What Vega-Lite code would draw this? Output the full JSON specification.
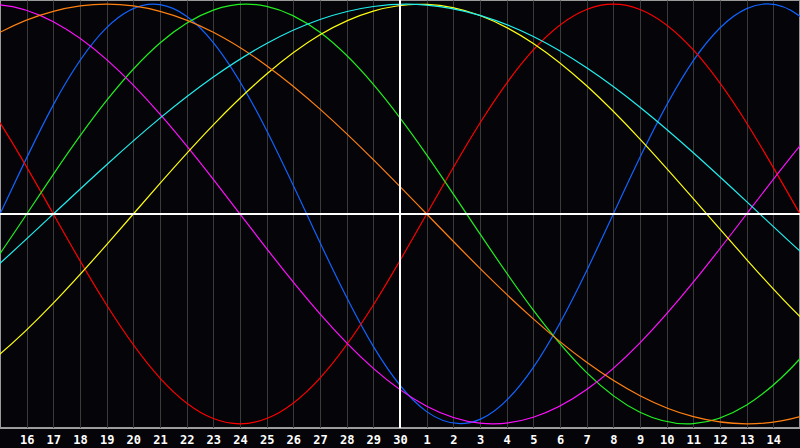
{
  "$schema": "https://vega.github.io/schema/vega-lite/v6.json",
  "width": 800,
  "height": 428,
  "autosize": {"type": "none"},
  "padding": {"left": 0, "top": 0, "right": 0, "bottom": 20},
  "background": "#050408",
  "config": {
    "view": {"stroke": "#9a9a9a", "strokeWidth": 2, "fill": "#050408"},
    "axis": {"labelOverlap": false, "labelFlush": false, "labelBound": false, "labelSeparation": 0}
  },
  "data": {
    "values": [
      {"s": "Physical", "t": -2, "v": -0.520}, {"s": "Physical", "t": 0, "v": 0}, {"s": "Physical", "t": 2, "v": 0.520}, {"s": "Physical", "t": 4, "v": 0.888}, {"s": "Physical", "t": 6, "v": 0.998}, {"s": "Physical", "t": 8, "v": 0.817}, {"s": "Physical", "t": 10, "v": 0.398}, {"s": "Physical", "t": 12, "v": -0.136}, {"s": "Physical", "t": 14, "v": -0.631}, {"s": "Physical", "t": 16, "v": -0.942}, {"s": "Physical", "t": 18, "v": -0.979}, {"s": "Physical", "t": 20, "v": -0.731}, {"s": "Physical", "t": 22, "v": -0.270}, {"s": "Physical", "t": 24, "v": 0.270}, {"s": "Physical", "t": 26, "v": 0.731}, {"s": "Physical", "t": 28, "v": 0.979}, {"s": "Physical", "t": 30, "v": 0.942}, {"s": "Physical", "t": 32, "v": 0.631},
      {"s": "Emotional", "t": -2, "v": 0.782}, {"s": "Emotional", "t": 0, "v": 0.434}, {"s": "Emotional", "t": 2, "v": 0}, {"s": "Emotional", "t": 4, "v": -0.434}, {"s": "Emotional", "t": 6, "v": -0.782}, {"s": "Emotional", "t": 8, "v": -0.975}, {"s": "Emotional", "t": 10, "v": -0.975}, {"s": "Emotional", "t": 12, "v": -0.782}, {"s": "Emotional", "t": 14, "v": -0.434}, {"s": "Emotional", "t": 16, "v": 0}, {"s": "Emotional", "t": 18, "v": 0.434}, {"s": "Emotional", "t": 20, "v": 0.782}, {"s": "Emotional", "t": 22, "v": 0.975}, {"s": "Emotional", "t": 24, "v": 0.975}, {"s": "Emotional", "t": 26, "v": 0.782}, {"s": "Emotional", "t": 28, "v": 0.434}, {"s": "Emotional", "t": 30, "v": 0}, {"s": "Emotional", "t": 32, "v": -0.434},
      {"s": "Intellectual", "t": -2, "v": -0.541}, {"s": "Intellectual", "t": 0, "v": -0.189}, {"s": "Intellectual", "t": 2, "v": 0.189}, {"s": "Intellectual", "t": 4, "v": 0.541}, {"s": "Intellectual", "t": 6, "v": 0.815}, {"s": "Intellectual", "t": 8, "v": 0.972}, {"s": "Intellectual", "t": 10, "v": 0.990}, {"s": "Intellectual", "t": 12, "v": 0.866}, {"s": "Intellectual", "t": 14, "v": 0.618}, {"s": "Intellectual", "t": 16, "v": 0.282}, {"s": "Intellectual", "t": 18, "v": -0.095}, {"s": "Intellectual", "t": 20, "v": -0.458}, {"s": "Intellectual", "t": 22, "v": -0.756}, {"s": "Intellectual", "t": 24, "v": -0.945}, {"s": "Intellectual", "t": 26, "v": -0.999}, {"s": "Intellectual", "t": 28, "v": -0.910}, {"s": "Intellectual", "t": 30, "v": -0.690}, {"s": "Intellectual", "t": 32, "v": -0.372},
      {"s": "Intuitive", "t": -2, "v": 0.969}, {"s": "Intuitive", "t": 0, "v": 0.997}, {"s": "Intuitive", "t": 2, "v": 0.916}, {"s": "Intuitive", "t": 4, "v": 0.736}, {"s": "Intuitive", "t": 6, "v": 0.476}, {"s": "Intuitive", "t": 8, "v": 0.165}, {"s": "Intuitive", "t": 10, "v": -0.165}, {"s": "Intuitive", "t": 12, "v": -0.476}, {"s": "Intuitive", "t": 14, "v": -0.736}, {"s": "Intuitive", "t": 16, "v": -0.916}, {"s": "Intuitive", "t": 18, "v": -0.997}, {"s": "Intuitive", "t": 20, "v": -0.969}, {"s": "Intuitive", "t": 22, "v": -0.837}, {"s": "Intuitive", "t": 24, "v": -0.614}, {"s": "Intuitive", "t": 26, "v": -0.325}, {"s": "Intuitive", "t": 28, "v": 0}, {"s": "Intuitive", "t": 30, "v": 0.325}, {"s": "Intuitive", "t": 32, "v": 0.614},
      {"s": "Aesthetic", "t": -2, "v": -0.854}, {"s": "Aesthetic", "t": 0, "v": -0.667}, {"s": "Aesthetic", "t": 2, "v": -0.425}, {"s": "Aesthetic", "t": 4, "v": -0.146}, {"s": "Aesthetic", "t": 6, "v": 0.146}, {"s": "Aesthetic", "t": 8, "v": 0.425}, {"s": "Aesthetic", "t": 10, "v": 0.667}, {"s": "Aesthetic", "t": 12, "v": 0.854}, {"s": "Aesthetic", "t": 14, "v": 0.967}, {"s": "Aesthetic", "t": 16, "v": 0.999}, {"s": "Aesthetic", "t": 18, "v": 0.946}, {"s": "Aesthetic", "t": 20, "v": 0.813}, {"s": "Aesthetic", "t": 22, "v": 0.611}, {"s": "Aesthetic", "t": 24, "v": 0.357}, {"s": "Aesthetic", "t": 26, "v": 0.073}, {"s": "Aesthetic", "t": 28, "v": -0.217}, {"s": "Aesthetic", "t": 30, "v": -0.489}, {"s": "Aesthetic", "t": 32, "v": -0.720},
      {"s": "Awareness", "t": -2, "v": 0.707}, {"s": "Awareness", "t": 0, "v": 0.866}, {"s": "Awareness", "t": 2, "v": 0.966}, {"s": "Awareness", "t": 4, "v": 1}, {"s": "Awareness", "t": 6, "v": 0.966}, {"s": "Awareness", "t": 8, "v": 0.866}, {"s": "Awareness", "t": 10, "v": 0.707}, {"s": "Awareness", "t": 12, "v": 0.5}, {"s": "Awareness", "t": 14, "v": 0.259}, {"s": "Awareness", "t": 16, "v": 0}, {"s": "Awareness", "t": 18, "v": -0.259}, {"s": "Awareness", "t": 20, "v": -0.5}, {"s": "Awareness", "t": 22, "v": -0.707}, {"s": "Awareness", "t": 24, "v": -0.866}, {"s": "Awareness", "t": 26, "v": -0.966}, {"s": "Awareness", "t": 28, "v": -1}, {"s": "Awareness", "t": 30, "v": -0.966}, {"s": "Awareness", "t": 32, "v": -0.866},
      {"s": "Spiritual", "t": -2, "v": -0.457}, {"s": "Spiritual", "t": 0, "v": -0.235}, {"s": "Spiritual", "t": 2, "v": 0}, {"s": "Spiritual", "t": 4, "v": 0.235}, {"s": "Spiritual", "t": 6, "v": 0.457}, {"s": "Spiritual", "t": 8, "v": 0.653}, {"s": "Spiritual", "t": 10, "v": 0.813}, {"s": "Spiritual", "t": 12, "v": 0.927}, {"s": "Spiritual", "t": 14, "v": 0.989}, {"s": "Spiritual", "t": 16, "v": 0.996}, {"s": "Spiritual", "t": 18, "v": 0.947}, {"s": "Spiritual", "t": 20, "v": 0.846}, {"s": "Spiritual", "t": 22, "v": 0.697}, {"s": "Spiritual", "t": 24, "v": 0.509}, {"s": "Spiritual", "t": 26, "v": 0.292}, {"s": "Spiritual", "t": 28, "v": 0.059}, {"s": "Spiritual", "t": 30, "v": -0.177}, {"s": "Spiritual", "t": 32, "v": -0.403}
    ]
  },
  "layer": [
    {
      "mark": {"type": "line", "interpolate": "natural", "strokeWidth": 1.2, "clip": true},
      "encoding": {
        "x": {
          "field": "t", "type": "quantitative",
          "scale": {"domain": [0, 30], "nice": false, "zero": false},
          "axis": {
            "title": null,
            "values": [1,2,3,4,5,6,7,8,9,10,11,12,13,14,15,16,17,18,19,20,21,22,23,24,25,26,27,28,29],
            "labelExpr": "datum.value <= 15 ? datum.value + 15 : datum.value - 15",
            "grid": true, "gridColor": "#3a3a3a", "gridWidth": 1,
            "ticks": false, "domainColor": "#a0a0a0", "domainWidth": 1,
            "labelColor": "#ffffff", "labelFont": "DejaVu Sans Mono", "labelFontWeight": "bold",
            "labelFontSize": 12, "labelBaseline": "alphabetic", "labelPadding": 15,
            "labelOverlap": false, "labelFlush": false, "labelBound": false, "labelSeparation": 0
          }
        },
        "y": {
          "field": "v", "type": "quantitative",
          "scale": {"domain": [-1.02, 1.02], "nice": false, "zero": false},
          "axis": null
        },
        "color": {
          "field": "s", "type": "nominal", "legend": null,
          "scale": {
            "domain": ["Awareness", "Intuitive", "Physical", "Intellectual", "Emotional", "Aesthetic", "Spiritual"],
            "range": ["#ff8010", "#ff10ff", "#1064ff", "#20f020", "#ff0000", "#ffff10", "#20f0f0"]
          }
        }
      }
    },
    {
      "mark": {"type": "rule", "color": "#ffffff", "strokeWidth": 1.5},
      "encoding": {"y": {"datum": 0, "axis": null}}
    },
    {
      "mark": {"type": "rule", "color": "#ffffff", "strokeWidth": 1.5},
      "encoding": {
        "x": {
          "datum": 15,
          "axis": {
            "title": null,
            "values": [1,2,3,4,5,6,7,8,9,10,11,12,13,14,15,16,17,18,19,20,21,22,23,24,25,26,27,28,29],
            "labelExpr": "datum.value <= 15 ? datum.value + 15 : datum.value - 15",
            "grid": true, "gridColor": "#3a3a3a", "gridWidth": 1,
            "ticks": false, "domainColor": "#a0a0a0", "domainWidth": 1,
            "labelColor": "#ffffff", "labelFont": "DejaVu Sans Mono", "labelFontWeight": "bold",
            "labelFontSize": 12, "labelBaseline": "alphabetic", "labelPadding": 15,
            "labelOverlap": false, "labelFlush": false, "labelBound": false, "labelSeparation": 0
          }
        }
      }
    }
  ]
}
